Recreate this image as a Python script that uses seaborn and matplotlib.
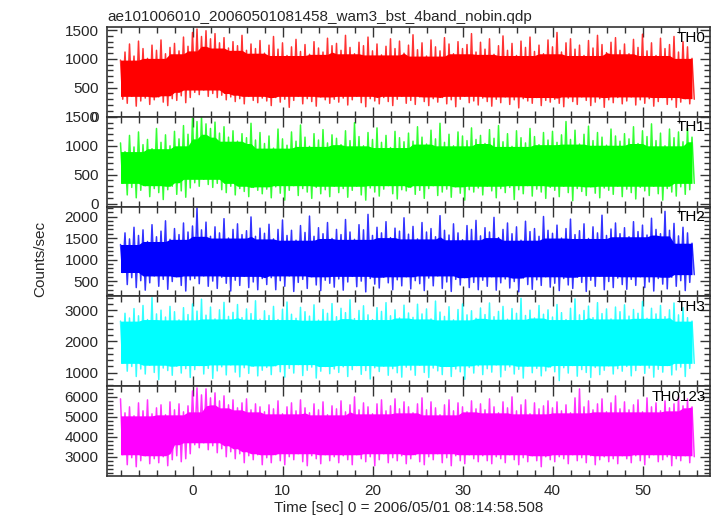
import numpy as np
import pandas as pd
import matplotlib
matplotlib.use("Agg")
import matplotlib.pyplot as plt
from matplotlib.ticker import MultipleLocator
import seaborn as sns

# ---------------- data ----------------
title = "ae101006010_20060501081458_wam3_bst_4band_nobin.qdp"
xlabel = "Time [sec] 0 = 2006/05/01 08:14:58.508"
ylabel = "Counts/sec"
bands = ["TH0", "TH1", "TH2", "TH3", "TH0123"]
t_start = -8.0      # s, first bin
t_step = 0.25       # s, bin spacing of the plotted series

# upper / lower excursions of each light curve, every 0.5 s
th0_hi = [980, 1120, 1260, 1050, 1310, 1180, 1010, 1240, 1150, 1330, 1090, 1200, 1270, 1140, 1380, 1220,
          1460, 1520, 1390, 1490, 1350, 1440, 1280, 1370, 1190, 1300, 1230, 1410, 1150, 1260, 1180, 1320,
          1100, 1240, 1390, 1170, 1280, 1060, 1210, 1340, 1130, 1250, 1080, 1300, 1190, 1120, 1360, 1230,
          1270, 1150, 1410, 1200, 1090, 1290, 1230, 1380, 1140, 1260, 1070, 1220, 1350, 1180, 1310, 1100,
          1240, 1420, 1160, 1280, 1050, 1330, 1210, 1140, 1370, 1260, 1090, 1300, 1180, 1250, 1440, 1120,
          1290, 1170, 1350, 1080, 1230, 1400, 1150, 1270, 1060, 1310, 1200, 1380, 1130, 1240, 1090, 1330,
          1210, 1460, 1120, 1280, 1350, 1170, 1240, 1060, 1320, 1190, 1410, 1250, 1110, 1290, 1370, 1150,
          1260, 1090, 1340, 1200, 1430, 1140, 1280, 1060, 1360, 1180, 1250, 1390, 1120, 1300, 1210, 1010]
th0_lo = [300, 230, 350, 180, 270, 320, 210, 290, 340, 250, 190, 310, 280, 360, 240, 330,
          420, 380, 460, 350, 400, 330, 370, 290, 340, 260, 310, 220, 350, 280, 240, 320,
          270, 190, 330, 250, 300, 160, 280, 350, 220, 310, 260, 180, 340, 290, 230, 300,
          250, 320, 200, 290, 350, 240, 170, 310, 270, 220, 330, 260, 190, 300, 350, 230,
          280, 210, 340, 260, 190, 310, 250, 330, 220, 290, 170, 300, 350, 240, 270, 200,
          320, 260, 180, 300, 240, 340, 210, 290, 150, 310, 270, 230, 330, 190, 280, 250,
          300, 230, 170, 320, 260, 210, 340, 280, 190, 250, 310, 160, 290, 240, 330, 220,
          270, 340, 200, 290, 230, 310, 180, 260, 330, 210, 290, 160, 250, 310, 220, 300]

th1_hi = [1050, 900, 1180, 980, 1240, 1020, 1110, 950, 1300, 1060, 1190, 1000, 1250, 1120, 1350, 1200,
          1480, 1420, 1500, 1380, 1300, 1410, 1220, 1330, 1150, 1260, 1080, 1210, 1140, 1390, 1100, 1230,
          1040, 1170, 960, 1290, 1120, 1010, 1240, 1080, 1360, 1150, 990, 1210, 1100, 1280, 1050, 1190,
          1130, 1020, 1260, 1090, 1400, 1160, 1000, 1230, 1110, 1310, 1060, 1180, 970, 1250, 1140, 1070,
          1220, 1080, 1330, 1150, 1030, 1270, 1120, 1390, 1060, 1200, 1000, 1240, 1170, 1090, 1310, 1110,
          1180, 1040, 1280, 1130, 1350, 1070, 1210, 990, 1260, 1140, 1050, 1300, 1160, 1020, 1230, 1100,
          1250, 1060, 1190, 1420, 1110, 1270, 1030, 1200, 1340, 1090, 1230, 1150, 1010, 1290, 1170, 1080,
          1210, 1120, 1330, 1040, 1260, 1160, 1380, 1090, 1220, 1000, 1290, 1140, 1240, 1070, 1310, 1150]
th1_lo = [350, 150, 280, 100, 230, 310, 120, 260, 190, 70, 240, 300, 160, 220, 110, 270,
          360, 300, 420, 330, 280, 350, 240, 190, 300, 150, 260, 210, 120, 280, 230, 170,
          250, 100, 290, 180, 60, 230, 310, 140, 260, 200, 90, 280, 170, 240, 120, 300,
          190, 260, 110, 230, 300, 150, 60, 270, 200, 130, 250, 310, 170, 80, 240, 220,
          280, 160, 230, 90, 260, 310, 140, 200, 250, 110, 290, 180, 60, 240, 200, 270,
          150, 300, 220, 100, 260, 190, 280, 70, 240, 170, 310, 130, 250, 200, 90, 280,
          230, 120, 300, 190, 50, 260, 210, 140, 290, 180, 100, 270, 230, 160, 300, 120,
          250, 190, 80, 280, 220, 140, 300, 170, 60, 260, 200, 130, 290, 160, 240, 350]

th2_hi = [1350, 1620, 1480, 1750, 1560, 1690, 1420, 1810, 1530, 1660, 1900, 1470, 1720, 1580, 1850, 1640,
          1780, 2200, 1690, 1870, 1540, 1760, 1620, 1950, 1500, 1700, 1830, 1580, 1670, 1990, 1540, 1730,
          1610, 1820, 1480, 1700, 1920, 1560, 1680, 1450, 1790, 1630, 2010, 1540, 1740, 1600, 1860, 1490,
          1700, 1580, 1930, 1640, 1470, 1810, 1690, 2050, 1560, 1750, 1620, 1880, 1510, 1730, 1660, 1970,
          1590, 1770, 1480, 1860, 1640, 1720, 1530, 2020, 1680, 1570, 1830, 1620, 1460, 1790, 1700, 1910,
          1550, 1740, 1640, 1980, 1510, 1700, 1850, 1600, 1760, 1450, 1890, 1650, 1720, 1540, 2000, 1680,
          1610, 1800, 1500, 1720, 1940, 1580, 1670, 1830, 1490, 1760, 1620, 2030, 1560, 1710, 1850, 1600,
          1740, 1530, 1880, 1650, 1800, 1570, 1960, 1700, 1600, 2120, 1680, 1840, 1550, 1750, 1620, 1380]
th2_lo = [700, 420, 580, 350, 510, 290, 460, 620, 380, 540, 310, 490, 600, 400, 270, 530,
          560, 440, 620, 380, 500, 330, 590, 450, 270, 520, 400, 610, 350, 480, 300, 560,
          420, 580, 300, 510, 380, 620, 260, 470, 540, 330, 600, 410, 280, 520, 450, 360,
          550, 290, 480, 610, 370, 500, 250, 560, 430, 340, 590, 460, 300, 530, 390, 600,
          320, 510, 440, 280, 570, 390, 620, 330, 480, 260, 540, 410, 580, 350, 470, 300,
          520, 380, 600, 290, 460, 550, 340, 490, 250, 570, 420, 310, 530, 400, 600, 360,
          450, 280, 560, 410, 330, 590, 470, 260, 520, 380, 610, 300, 490, 350, 570, 420,
          310, 540, 400, 600, 350, 480, 270, 560, 430, 320, 590, 380, 510, 280, 470, 650]

th3_hi = [2650, 2900, 2750, 3050, 2820, 3150, 2700, 3400, 2880, 3000, 2780, 3120, 2950, 2690, 3080, 2860,
          3200, 2970, 3350, 2840, 3100, 2720, 3010, 3250, 2800, 2930, 3180, 2760, 3040, 2890, 3300, 2710,
          2980, 2830, 3120, 2700, 3030, 3260, 2870, 2740, 3090, 2950, 2810, 3170, 2680, 3020, 2900, 3210,
          2790, 3060, 2920, 3330, 2730, 2990, 3140, 2850, 2700, 3080, 2960, 3240, 2820, 3010, 2750, 3160,
          2910, 2770, 3190, 2880, 3040, 2720, 3290, 2940, 2800, 3110, 2690, 3020, 3200, 2850, 2980, 2740,
          3070, 2860, 3230, 2790, 2960, 3120, 2710, 3050, 2900, 3380, 2830, 3000, 2750, 3150, 2870, 3010,
          2780, 3180, 2920, 2700, 3060, 3360, 2850, 2990, 3130, 2760, 3240, 2890, 3040, 2720, 3100, 2950,
          3170, 2810, 3020, 2900, 3280, 2740, 3060, 2880, 3150, 2790, 3010, 3230, 2850, 3080, 2760, 2650]
th3_lo = [1300, 1050, 1200, 880, 1120, 960, 1240, 1010, 780, 1150, 1070, 920, 1210, 990, 1130, 850,
          1100, 1230, 960, 1140, 820, 1060, 1190, 930, 1250, 1020, 870, 1160, 980, 1210, 900, 1080,
          1170, 940, 1220, 1030, 860, 1140, 990, 1260, 910, 1080, 1180, 830, 1050, 1200, 970, 1120,
          1010, 1190, 880, 1100, 1230, 950, 1070, 800, 1160, 1040, 1210, 920, 1130, 1000, 860, 1180,
          1090, 920, 1240, 1010, 850, 1150, 1060, 940, 1200, 880, 1120, 1030, 790, 1170, 990, 1220,
          940, 1130, 1020, 1250, 870, 1080, 1190, 960, 1110, 830, 1210, 1000, 1140, 900, 1060, 1180,
          1030, 750, 1160, 990, 1230, 890, 1100, 1010, 850, 1170, 940, 1080, 1220, 960, 1130, 1050,
          1200, 900, 1070, 1240, 980, 1150, 860, 1110, 1020, 1230, 930, 1090, 1180, 880, 1140, 1300]

th0123_hi = [5900, 5200, 5500, 5050, 5700, 5300, 5850, 5150, 5450, 5600, 5100, 5750, 5350, 5650, 5250, 5550,
             6300, 6450, 6100, 6400, 5950, 6200, 5800, 6050, 5600, 5850, 5450, 5700, 5900, 5350, 5650, 5500,
             5250, 5600, 5400, 5800, 5150, 5500, 5700, 5300, 5850, 5450, 5200, 5650, 5350, 5750, 5100, 5550,
             5400, 5800, 5250, 5600, 6000, 5350, 5700, 5500, 5150, 5650, 5850, 5300, 5550, 5900, 5400, 5750,
             5500, 5200, 5650, 5950, 5350, 5750, 5450, 5100, 5600, 5850, 5300, 5700, 5500, 5250, 5800, 5400,
             5650, 5350, 5900, 5500, 5200, 5750, 5450, 6000, 5300, 5600, 5850, 5150, 5700, 5400, 5550, 5800,
             5450, 5750, 5300, 5600, 5200, 5950, 6400, 5500, 5800, 5350, 5650, 5900, 5250, 5700, 6050, 5400,
             5750, 5350, 5600, 5850, 5250, 5950, 5500, 5700, 5300, 5800, 5450, 5650, 6000, 5550, 5900, 5500]
th0123_lo = [3100, 2600, 2950, 2500, 2800, 3050, 2650, 2900, 2700, 3000, 2550, 2850, 3050, 2750, 2900, 3150,
             3600, 3450, 3700, 3350, 3550, 3200, 3400, 3000, 3250, 2900, 3150, 2700, 3050, 2850, 3100, 2600,
             2950, 2700, 3100, 2800, 2600, 3000, 2850, 3150, 2750, 2550, 3050, 2900, 2650, 3100, 2800, 3000,
             2700, 3050, 2850, 2600, 3100, 2900, 2750, 3000, 2550, 2850, 3150, 2700, 2950, 2800, 3050, 2650,
             2900, 3100, 2750, 2600, 3000, 2850, 3150, 2700, 2950, 2550, 3050, 2800, 2650, 3100, 2900, 2750,
             3050, 2800, 2650, 3000, 2900, 2700, 3100, 2850, 2600, 2950, 2750, 3050, 2800, 2500, 3000, 2850,
             2750, 3000, 2900, 2650, 3100, 2800, 2950, 2700, 3050, 2600, 2850, 3000, 2750, 2900, 2650, 3050,
             2900, 2700, 3050, 2800, 2600, 2950, 3100, 2750, 2850, 3000, 2550, 2900, 2800, 3050, 2700, 3000]

series_hi = [th0_hi, th1_hi, th2_hi, th3_hi, th0123_hi]
series_lo = [th0_lo, th1_lo, th2_lo, th3_lo, th0123_lo]

# ---------------- styling ----------------
colors = ["#ff0000", "#00ff00", "#0000ff", "#00ffff", "#ff00ff"]
ylims = [(-5, 1555), (-52, 1502), (145, 2230), (570, 3440), (2035, 6535)]
yticks = [[0, 500, 1000, 1500], [0, 500, 1000, 1500], [500, 1000, 1500, 2000],
          [1000, 2000, 3000], [3000, 4000, 5000, 6000]]
yminor = [100, 100, 100, 200, 200]

sns.set_style("ticks")
plt.rcParams["font.family"] = ["Liberation Sans", "DejaVu Sans"]
plt.rcParams["font.size"] = 11

fig, axes = plt.subplots(5, 1, sharex=True, figsize=(7.17, 5.16), dpi=100)
fig.subplots_adjust(left=107 / 717, right=710 / 717, top=1 - 27 / 516, bottom=1 - 476 / 516, hspace=0)

edge = "#333333"
for i, ax in enumerate(axes):
    hi = pd.Series(series_hi[i], dtype=float)
    lo = pd.Series(series_lo[i], dtype=float)
    vals = np.column_stack([hi, lo]).ravel()
    t = t_start + t_step * np.arange(len(vals))
    # dense core of the light curve: range common to neighbouring excursions
    core_top = hi.rolling(9, center=True, min_periods=1).min()
    core_bot = lo.rolling(9, center=True, min_periods=1).max()
    ax.fill_between(t[::2], core_bot, core_top, color=colors[i], lw=0)
    df = pd.DataFrame({"t": t, "rate": vals})
    sns.lineplot(data=df, x="t", y="rate", ax=ax, color=colors[i], lw=1.1, alpha=0.8,
                 estimator=None, sort=False, legend=False)
    ax.set_xlim(-9.5, 57.5)
    ax.set_ylim(*ylims[i])
    ax.set_yticks(yticks[i])
    ax.yaxis.set_minor_locator(MultipleLocator(yminor[i]))
    ax.xaxis.set_major_locator(MultipleLocator(10))
    ax.xaxis.set_minor_locator(MultipleLocator(2))
    ax.tick_params(which="both", direction="in", top=True, right=True, color=edge, width=1.0)
    ax.tick_params(which="major", length=7, labelsize=11, pad=6)
    ax.tick_params(which="minor", length=4)
    for s in ax.spines.values():
        s.set_color(edge)
        s.set_linewidth(1.2)
    ax.set_ylabel("")
    ax.set_xlabel("")
    ax.text(0.993, 0.96, bands[i], transform=ax.transAxes, ha="right", va="top",
            fontsize=11, color="black")

axes[0].set_title(title, loc="left", fontsize=11, pad=4)
axes[-1].set_xlabel(xlabel, fontsize=11, labelpad=2)
fig.text(0.056, 0.498, ylabel, rotation=90, ha="center", va="center", fontsize=11)

fig.savefig("out.png", dpi=100)
